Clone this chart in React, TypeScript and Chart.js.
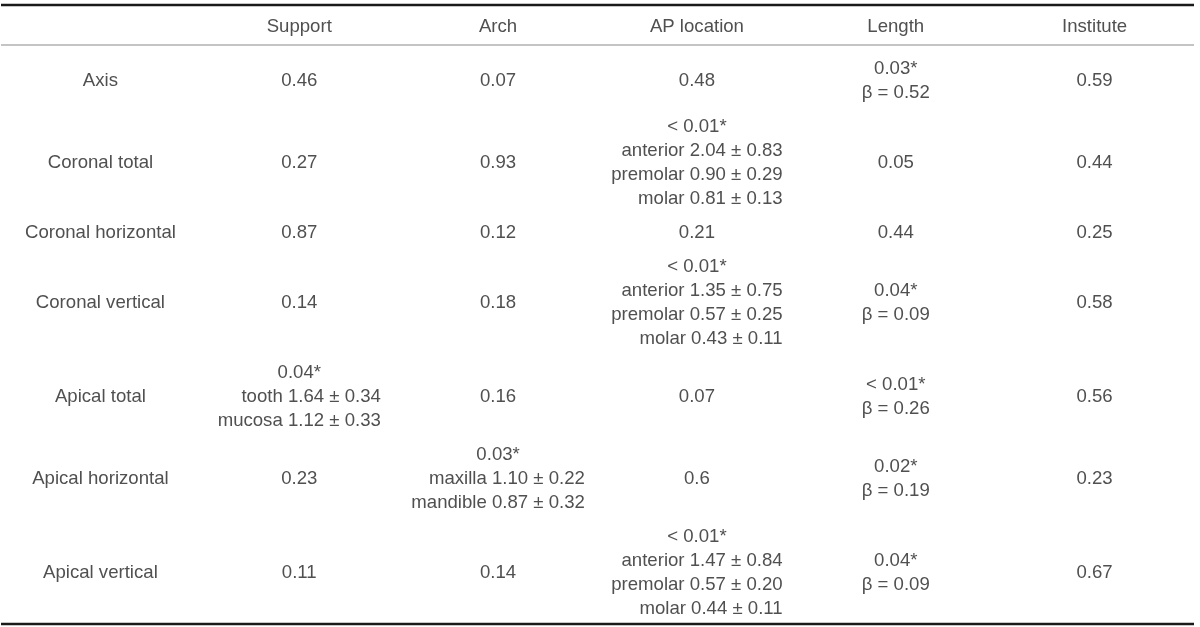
import React, { useEffect, useRef } from "react";
import { Chart, registerables } from "chart.js";

Chart.register(...registerables);

const columnHeaders = ["", "Support", "Arch", "AP location", "Length", "Institute"];

const rowLabels = [
  "Axis",
  "Coronal total",
  "Coronal horizontal",
  "Coronal vertical",
  "Apical total",
  "Apical horizontal",
  "Apical vertical",
];

const supportCells = [
  ["0.46"],
  ["0.27"],
  ["0.87"],
  ["0.14"],
  ["0.04*", "tooth 1.64 ± 0.34", "mucosa 1.12 ± 0.33"],
  ["0.23"],
  ["0.11"],
];

const archCells = [
  ["0.07"],
  ["0.93"],
  ["0.12"],
  ["0.18"],
  ["0.16"],
  ["0.03*", "maxilla 1.10 ± 0.22", "mandible 0.87 ± 0.32"],
  ["0.14"],
];

const apLocationCells = [
  ["0.48"],
  ["< 0.01*", "anterior 2.04 ± 0.83", "premolar 0.90 ± 0.29", "molar 0.81 ± 0.13"],
  ["0.21"],
  ["< 0.01*", "anterior 1.35 ± 0.75", "premolar 0.57 ± 0.25", "molar 0.43 ± 0.11"],
  ["0.07"],
  ["0.6"],
  ["< 0.01*", "anterior 1.47 ± 0.84", "premolar 0.57 ± 0.20", "molar 0.44 ± 0.11"],
];

const lengthCells = [
  ["0.03*", "β = 0.52"],
  ["0.05"],
  ["0.44"],
  ["0.04*", "β = 0.09"],
  ["< 0.01*", "β = 0.26"],
  ["0.02*", "β = 0.19"],
  ["0.04*", "β = 0.09"],
];

const instituteCells = [
  ["0.59"],
  ["0.44"],
  ["0.25"],
  ["0.58"],
  ["0.56"],
  ["0.23"],
  ["0.67"],
];

// layout (in y-scale units)
const TOP_RULE = 5;
const HEADER_H = 40;
const BODY_GAP = 6;
const LINE_H = 24;
const ROW_PAD = 10;
const TOTAL_H = 627;

const FONT = '18.6px "Liberation Sans", Arial, sans-serif';
const TEXT_COLOR = "#505050";

export default function App() {
  const canvasRef = useRef<HTMLCanvasElement | null>(null);

  useEffect(() => {
    const canvas = canvasRef.current;
    if (!canvas) return;

    const columns = [
      rowLabels.map((l) => [l]),
      supportCells,
      archCells,
      apLocationCells,
      lengthCells,
      instituteCells,
    ];

    const lineCounts = rowLabels.map((_, r) =>
      Math.max(...columns.map((c) => c[r].length))
    );
    const headerRule = TOP_RULE + HEADER_H;
    const headerCenter = TOP_RULE + HEADER_H / 2 + 2;
    const rowCenters: number[] = [];
    let yCursor = headerRule + BODY_GAP;
    lineCounts.forEach((n) => {
      const h = n * LINE_H + ROW_PAD;
      rowCenters.push(yCursor + h / 2);
      yCursor += h;
    });
    const bottomRule = yCursor - 1;

    const datasets = columns.map((col, ci) => ({
      label: columnHeaders[ci] || "row",
      data: col.map((_, r) => ({ x: ci, y: rowCenters[r] })),
      pointRadius: 0,
      showLine: false,
    }));

    const tablePlugin = {
      id: "tableText",
      afterDatasetsDraw(chart: any) {
        const ctx = chart.ctx;
        const xs = chart.scales.x;
        const ys = chart.scales.y;
        const left = xs.getPixelForValue(-0.5);
        const right = xs.getPixelForValue(columnHeaders.length - 0.5);
        ctx.save();

        ctx.strokeStyle = "#1a1a1a";
        ctx.lineWidth = 2.5;
        ctx.beginPath();
        ctx.moveTo(left, ys.getPixelForValue(TOP_RULE));
        ctx.lineTo(right, ys.getPixelForValue(TOP_RULE));
        ctx.stroke();
        ctx.beginPath();
        ctx.moveTo(left, ys.getPixelForValue(bottomRule));
        ctx.lineTo(right, ys.getPixelForValue(bottomRule));
        ctx.stroke();
        ctx.strokeStyle = "#8a8a8a";
        ctx.lineWidth = 1.2;
        ctx.beginPath();
        ctx.moveTo(left, ys.getPixelForValue(headerRule));
        ctx.lineTo(right, ys.getPixelForValue(headerRule));
        ctx.stroke();

        ctx.font = FONT;
        ctx.fillStyle = TEXT_COLOR;
        ctx.textBaseline = "middle";

        ctx.textAlign = "center";
        columnHeaders.forEach((h, ci) => {
          if (!h) return;
          ctx.fillText(h, xs.getPixelForValue(ci), ys.getPixelForValue(headerCenter));
        });

        chart.data.datasets.forEach((_: any, di: number) => {
          const meta = chart.getDatasetMeta(di);
          const col = columns[di];
          meta.data.forEach((pt: any, r: number) => {
            const lines = col[r];
            const n = lines.length;
            // detail lines ("label mean ± sd") are right-aligned as a centred block
            const details = lines.slice(1).filter((t) => t.indexOf("±") >= 0);
            const blockW = details.length
              ? Math.max(...details.map((t) => ctx.measureText(t).width))
              : 0;
            lines.forEach((t: string, li: number) => {
              const y = pt.y + (li - (n - 1) / 2) * LINE_H + 1;
              if (li > 0 && t.indexOf("±") >= 0) {
                ctx.textAlign = "right";
                ctx.fillText(t, pt.x + blockW / 2, y);
              } else {
                ctx.textAlign = "center";
                ctx.fillText(t, pt.x, y);
              }
            });
          });
        });
        ctx.restore();
      },
    };

    const chart = new Chart(canvas, {
      type: "scatter",
      data: { datasets },
      options: {
        animation: false,
        responsive: false,
        maintainAspectRatio: false,
        layout: { padding: { left: 1, right: 6, top: 0, bottom: 0 } },
        plugins: { legend: { display: false }, tooltip: { enabled: false } },
        events: [],
        scales: {
          x: {
            type: "linear",
            display: false,
            min: -0.5,
            max: columnHeaders.length - 0.5,
          },
          y: {
            type: "linear",
            display: false,
            min: 0,
            max: TOTAL_H,
            reverse: true,
          },
        },
      },
      plugins: [tablePlugin],
    });

    return () => chart.destroy();
  }, []);

  return (
    <div style={{ position: "absolute", left: 0, top: 0, width: 1200, height: 627, background: "#ffffff" }}>
      <canvas ref={canvasRef} width={1200} height={627} style={{ width: 1200, height: 627, display: "block" }} />
    </div>
  );
}
